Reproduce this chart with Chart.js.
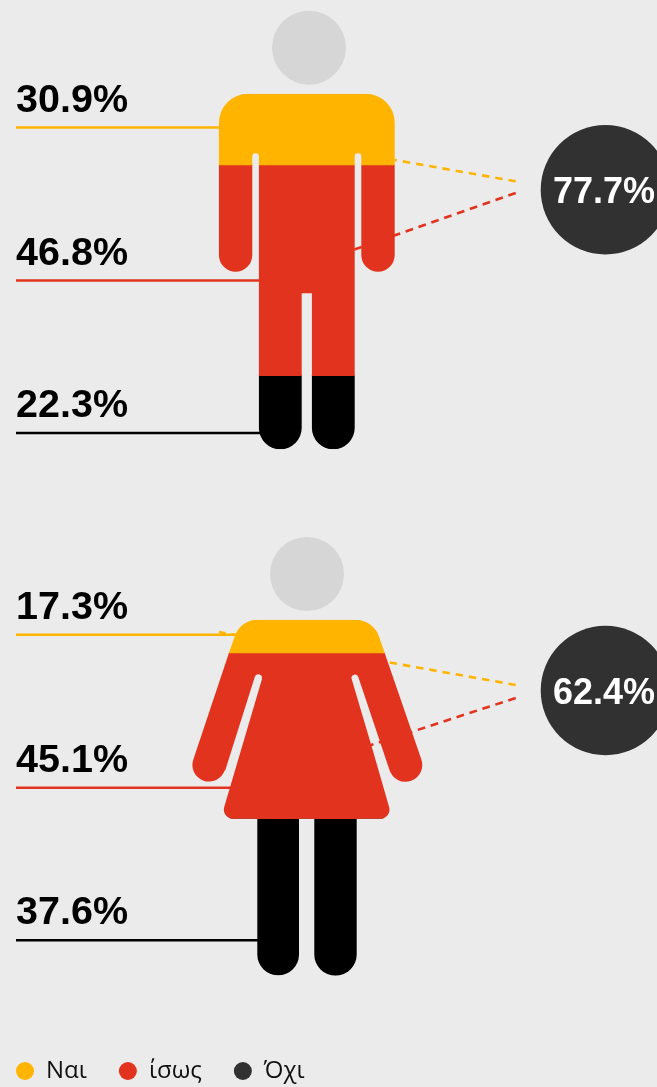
<!DOCTYPE html>
<html lang="el">
<head>
<meta charset="utf-8">
<script src="https://cdn.jsdelivr.net/npm/chart.js@4"></script>
<style>
html,body{margin:0;padding:0;width:657px;height:1087px;overflow:hidden;background:#ebebeb;}
canvas{position:absolute;top:0;left:0;}
#legendChart{left:-16px;}
</style>
</head>
<body>
<canvas id="manChart" width="657" height="1087"></canvas>
<canvas id="womanChart" width="657" height="1087"></canvas>
<canvas id="legendChart" width="673" height="1187"></canvas>
<script>
// Data
const seriesNames = ['Ναι', 'ίσως', 'Όχι'];
const manValues = [30.9, 46.8, 22.3];
const womanValues = [17.3, 45.1, 37.6];
const manTotal = 77.7;
const womanTotal = 62.4;
// Height of each coloured band, as a share of the body height
const manBands = [20.0, 59.3, 20.7];
const womanBands = [9.3, 46.6, 44.1];

const YELLOW = '#ffb400', RED = '#e1331e', BLACK = '#000000', DARK = '#313131', HEAD = '#d6d6d6';
const FONT = '"Liberation Sans", Arial, sans-serif';
const fillColors = [YELLOW, RED, BLACK];
const legendColors = [YELLOW, RED, DARK];

function manShape() {
  const p = new Path2D();
  const PI = Math.PI;
  p.moveTo(248, 93.7);
  p.lineTo(365.7, 93.7);
  p.arc(365.7, 122.7, 29, -PI / 2, 0);
  p.lineTo(394.7, 255);
  p.arc(378, 255, 16.7, 0, PI);
  p.lineTo(361.3, 156.5);
  p.arc(358, 156.5, 3.3, 0, -PI, true);
  p.lineTo(354.7, 427.9);
  p.arc(333.3, 427.9, 21.4, 0, PI);
  p.lineTo(311.9, 293.3);
  p.lineTo(301.7, 293.3);
  p.lineTo(301.7, 427.9);
  p.arc(280.3, 427.9, 21.4, 0, PI);
  p.lineTo(258.9, 156.5);
  p.arc(255.6, 156.5, 3.3, 0, -PI, true);
  p.lineTo(252.3, 255);
  p.arc(235.6, 255, 16.7, 0, PI);
  p.lineTo(218.9, 122.7);
  p.arc(248, 122.7, 29, PI, -PI / 2);
  p.closePath();
  return p;
}

function womanShape() {
  const p = new Path2D();
  const PI = Math.PI;
  p.moveTo(305, 619.7);
  p.arcTo(373, 619.7, 384.7, 652.7, 25);
  p.lineTo(421.4, 759.4);
  p.arc(405.5, 765, 16.8, -0.337, 2.805);
  p.lineTo(358.3, 677);
  p.arc(355, 678, 3.5, -0.31, -0.31 - PI, true);
  p.lineTo(372.7, 750);
  p.arcTo(392.5, 818.7, 340, 818.7, 9);
  p.lineTo(356.7, 818.7);
  p.lineTo(356.7, 954.5);
  p.arc(335.5, 954.5, 21.2, 0, PI);
  p.lineTo(314.3, 818.7);
  p.lineTo(299, 818.7);
  p.lineTo(299, 954.5);
  p.arc(278.15, 954.5, 20.85, 0, PI);
  p.lineTo(257.3, 818.7);
  p.arcTo(220.6, 818.7, 235.7, 770, 9);
  p.lineTo(262, 679);
  p.arc(258.3, 678, 3.7, 0.305, 0.305 - PI, true);
  p.lineTo(225.2, 770.6);
  p.arc(209, 765, 16.6, 0.337, 0.337 + PI);
  p.lineTo(229, 652.7);
  p.arcTo(240.6, 619.7, 300, 619.7, 24);
  p.closePath();
  return p;
}

function figurePlugin(cfg) {
  return {
    id: 'figure',
    beforeDatasetsDraw(chart) {
      const c = chart.ctx;
      c.save();
      // dashed connectors, running behind the body
      cfg.dashes.forEach((d, i) => {
        c.beginPath();
        c.moveTo(d[0], d[1]);
        c.lineTo(d[2], d[3]);
        c.strokeStyle = fillColors[i];
        c.lineWidth = 2.6;
        c.setLineDash(d[4]);
        c.stroke();
      });
      c.setLineDash([]);
      // solid leaders
      cfg.leaders.forEach((l, i) => {
        c.beginPath();
        c.moveTo(16, l[0]);
        c.lineTo(l[1], l[0]);
        c.strokeStyle = fillColors[i];
        c.lineWidth = 2.6;
        c.stroke();
      });
      // head
      c.beginPath();
      c.arc(cfg.head[0], cfg.head[1], 37, 0, Math.PI * 2);
      c.fillStyle = HEAD;
      c.fill();
      c.restore();
      c.save();
      c.clip(cfg.shape);
    },
    afterDatasetsDraw(chart) {
      const c = chart.ctx;
      c.restore();
      c.save();
      // percentage labels
      c.font = 'bold 39.5px ' + FONT;
      c.fillStyle = '#000000';
      c.textAlign = 'left';
      c.textBaseline = 'alphabetic';
      cfg.values.forEach((v, i) => {
        c.fillText(v.toFixed(1) + '%', 16, cfg.leaders[i][0] - 16);
      });
      // total bubble
      c.beginPath();
      c.arc(605.4, cfg.bubbleY, 64.7, 0, Math.PI * 2);
      c.fillStyle = DARK;
      c.fill();
      c.font = 'bold 36px ' + FONT;
      c.fillStyle = '#ffffff';
      c.textAlign = 'center';
      c.fillText(cfg.total.toFixed(1) + '%', 604, cfg.bubbleY + 13.5);
      c.restore();
    }
  };
}

function makeFigure(id, bands, padTop, padBottom, plugin) {
  return new Chart(document.getElementById(id), {
    type: 'bar',
    data: {
      labels: [id],
      datasets: seriesNames.map((name, i) => ({
        label: name,
        data: [bands[i]],
        backgroundColor: fillColors[i],
        borderWidth: 0,
        barPercentage: 1,
        categoryPercentage: 1
      }))
    },
    options: {
      responsive: false,
      animation: false,
      layout: { padding: { top: padTop, bottom: padBottom, left: 0, right: 0 } },
      plugins: { legend: { display: false }, tooltip: { enabled: false } },
      scales: {
        x: { display: false, stacked: true },
        y: { display: false, stacked: true, reverse: true, min: 0, max: 100 }
      }
    },
    plugins: [plugin]
  });
}

makeFigure('manChart', manBands, 93.7, 1087 - 449.3, figurePlugin({
  shape: manShape(),
  head: [309, 47.7],
  leaders: [[127.5, 230], [280.5, 270], [433, 270]],
  values: manValues,
  total: manTotal,
  bubbleY: 189.7,
  dashes: [
    [515.7, 181.3, 395, 160, [7.4, 6]],
    [515.7, 193, 350, 251, [7.8, 5.8]]
  ]
}));

makeFigure('womanChart', womanBands, 619.7, 1087 - 975.7, figurePlugin({
  shape: womanShape(),
  head: [307, 574],
  leaders: [[634.7, 245], [787.7, 245], [940.3, 270]],
  values: womanValues,
  total: womanTotal,
  bubbleY: 690.5,
  dashes: [
    [515.7, 685, 219, 632, [7.4, 6]],
    [515.7, 698, 362, 748, [7.8, 5.8]]
  ]
}));

new Chart(document.getElementById('legendChart'), {
  type: 'bar',
  data: {
    labels: [''],
    datasets: seriesNames.map((name, i) => ({
      label: name,
      data: [],
      backgroundColor: legendColors[i],
      borderWidth: 0
    }))
  },
  options: {
    responsive: false,
    animation: false,
    layout: { padding: { top: 1027 } },
    plugins: {
      tooltip: { enabled: false },
      legend: {
        display: true,
        position: 'top',
        align: 'start',
        onClick: null,
        labels: {
          usePointStyle: true,
          pointStyle: 'circle',
          pointStyleWidth: 18,
          boxHeight: 12.73,
          padding: 32,
          color: '#111111',
          font: { family: '"Open Sans", "Noto Sans", sans-serif', size: 24, lineHeight: 1.35 }
        }
      }
    },
    scales: { x: { display: false }, y: { display: false } }
  }
});
</script>
</body>
</html>
